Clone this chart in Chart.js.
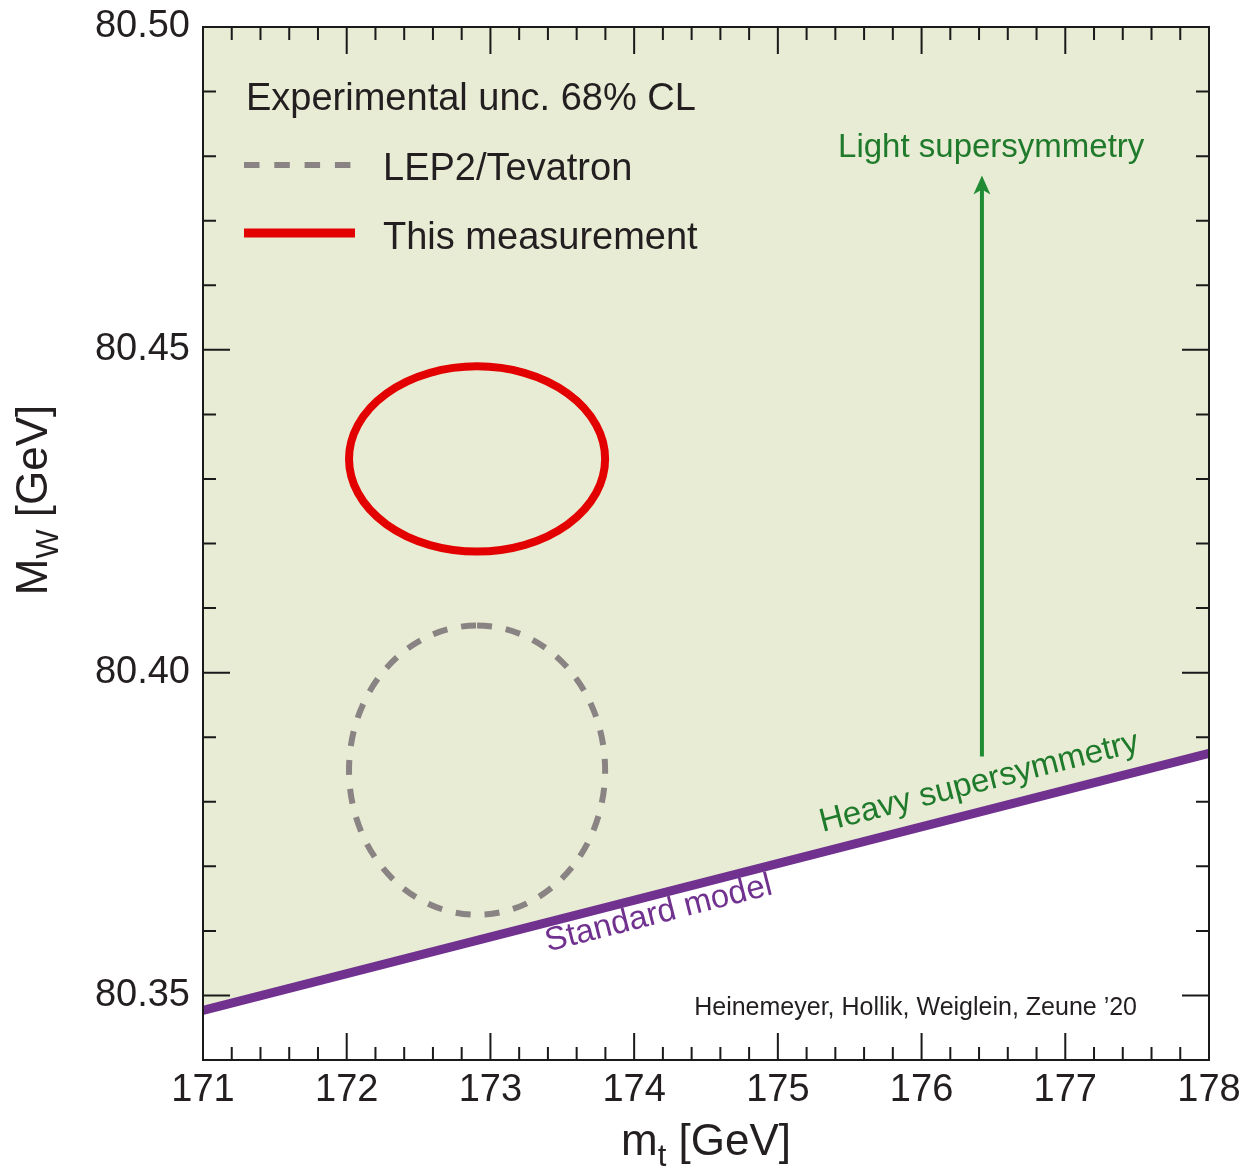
<!DOCTYPE html>
<html>
<head>
<meta charset="utf-8">
<script src="https://cdn.jsdelivr.net/npm/chart.js@4.4.1/dist/chart.umd.min.js"></script>
<style>
  html, body { margin: 0; padding: 0; background: #ffffff; }
  canvas { display: block; }
</style>
</head>
<body>
<canvas id="c" width="1258" height="1168"></canvas>
<script>
// ---------- data ----------
const xTickValues = [171, 172, 173, 174, 175, 176, 177, 178];
const yTickValues = [80.35, 80.40, 80.45, 80.50];
const xRange = [171, 178];
const yRange = [80.34, 80.50];

// Standard model line (m_t, M_W)
const smMt = [171, 178];
const smMw = [80.3477, 80.3875];

// 68% CL ellipses: LEP2/Tevatron, This measurement
const ellipseNames = ['LEP2/Tevatron', 'This measurement'];
const ellipseMt = [172.907, 172.907];
const ellipseMw = [80.3849, 80.4331];
const ellipseMtHalf = [0.891, 0.891];
const ellipseMwHalf = [0.0224, 0.01435];

// arrow from heavy to light supersymmetry
const arrowMt = [176.42, 176.42];
const arrowMw = [80.387, 80.477];

// ---------- styles ----------
const FONT = '"Liberation Sans", Arial, Helvetica, sans-serif';
const TEXT = '#231f20';
const BG_GREEN = '#e8ecd4';
const PURPLE = '#70318f';
const RED = '#e30000';
const GRAY = '#8a8383';
const GREEN_ARROW = '#1f8c34';
const GREEN_TEXT = '#1f7a2c';

Chart.defaults.font.family = FONT;

const decor = {
  id: 'decor',
  afterDatasetsDraw(chart) {
    const ctx = chart.ctx;
    const xs = chart.scales.x, ys = chart.scales.y;
    const ca = chart.chartArea;

    // ellipses
    const eStyle = [
      { color: GRAY, width: 6, dash: [15, 14] },
      { color: RED, width: 8, dash: [] }
    ];
    for (let i = 0; i < ellipseMt.length; i++) {
      const cx = xs.getPixelForValue(ellipseMt[i]);
      const cy = ys.getPixelForValue(ellipseMw[i]);
      const rx = Math.abs(xs.getPixelForValue(ellipseMt[i] + ellipseMtHalf[i]) - cx);
      const ry = Math.abs(ys.getPixelForValue(ellipseMw[i] + ellipseMwHalf[i]) - cy);
      ctx.save();
      ctx.strokeStyle = eStyle[i].color;
      ctx.lineWidth = eStyle[i].width;
      ctx.setLineDash(eStyle[i].dash);
      ctx.beginPath();
      ctx.ellipse(cx, cy, rx, ry, 0, -Math.PI / 2, 1.5 * Math.PI);
      ctx.stroke();
      ctx.restore();
    }

    // arrow
    const ax = xs.getPixelForValue(arrowMt[0]);
    const ay0 = ys.getPixelForValue(arrowMw[0]);
    const ay1 = ys.getPixelForValue(arrowMw[1]);
    ctx.save();
    ctx.strokeStyle = GREEN_ARROW;
    ctx.fillStyle = GREEN_ARROW;
    ctx.lineWidth = 4;
    ctx.beginPath();
    ctx.moveTo(ax, ay0);
    ctx.lineTo(ax, ay1 + 12);
    ctx.stroke();
    ctx.beginPath();
    ctx.moveTo(ax, ay1);
    ctx.lineTo(ax + 8.5, ay1 + 19);
    ctx.lineTo(ax, ay1 + 14);
    ctx.lineTo(ax - 8.5, ay1 + 19);
    ctx.closePath();
    ctx.fill();
    ctx.restore();

    // rotated labels along SM line
    const p0x = xs.getPixelForValue(smMt[0]), p0y = ys.getPixelForValue(smMw[0]);
    const p1x = xs.getPixelForValue(smMt[1]), p1y = ys.getPixelForValue(smMw[1]);
    const ang = Math.atan2(p1y - p0y, p1x - p0x);
    function rotText(txt, mx, my, color) {
      ctx.save();
      ctx.translate(xs.getPixelForValue(mx), ys.getPixelForValue(my));
      ctx.rotate(ang);
      ctx.font = '33px ' + FONT;
      ctx.fillStyle = color;
      ctx.textAlign = 'left';
      ctx.textBaseline = 'alphabetic';
      ctx.fillText(txt, 0, 0);
      ctx.restore();
    }
    rotText('Heavy supersymmetry', 175.31, 80.3753, GREEN_TEXT);
    rotText('Standard model', 173.401, 80.3568, PURPLE);

    ctx.save();
    ctx.font = '33px ' + FONT;
    ctx.fillStyle = GREEN_TEXT;
    ctx.textAlign = 'left';
    ctx.textBaseline = 'alphabetic';
    ctx.fillText('Light supersymmetry', xs.getPixelForValue(175.419), ys.getPixelForValue(80.4799));
    ctx.restore();

    // legend
    ctx.save();
    ctx.font = '38px ' + FONT;
    ctx.fillStyle = TEXT;
    ctx.textAlign = 'left';
    ctx.textBaseline = 'alphabetic';
    ctx.fillText('Experimental unc. 68% CL', ca.left + 43, ca.top + 83);
    ctx.fillText(ellipseNames[0], ca.left + 180, ca.top + 153);
    ctx.fillText(ellipseNames[1], ca.left + 180, ca.top + 222);
    ctx.lineCap = 'butt';
    ctx.strokeStyle = GRAY;
    ctx.lineWidth = 6;
    ctx.setLineDash([15.5, 14.8]);
    ctx.beginPath();
    ctx.moveTo(ca.left + 41, ca.top + 138);
    ctx.lineTo(ca.left + 152, ca.top + 138);
    ctx.stroke();
    ctx.setLineDash([]);
    ctx.strokeStyle = RED;
    ctx.lineWidth = 9;
    ctx.beginPath();
    ctx.moveTo(ca.left + 41, ca.top + 206);
    ctx.lineTo(ca.left + 152, ca.top + 206);
    ctx.stroke();
    ctx.restore();

    // credit
    ctx.save();
    ctx.font = '25px ' + FONT;
    ctx.fillStyle = TEXT;
    ctx.textAlign = 'right';
    ctx.textBaseline = 'alphabetic';
    ctx.fillText('Heinemeyer, Hollik, Weiglein, Zeune \u201920', ca.right - 72, ca.bottom - 45);
    ctx.restore();

    // frame
    ctx.save();
    ctx.strokeStyle = '#1a1a1a';
    ctx.lineWidth = 2;
    ctx.strokeRect(ca.left, ca.top, ca.right - ca.left, ca.bottom - ca.top);

    // ticks (inward, all sides)
    ctx.lineWidth = 2;
    ctx.beginPath();
    const MAJ = 27, MIN = 13;
    for (let k = 1; k < 35; k++) {
      const v = xRange[0] + k * 0.2;
      const px = xs.getPixelForValue(v);
      const len = (k % 5 === 0) ? MAJ : MIN;
      ctx.moveTo(px, ca.bottom); ctx.lineTo(px, ca.bottom - len);
      ctx.moveTo(px, ca.top); ctx.lineTo(px, ca.top + len);
    }
    for (let k = 1; k < 16; k++) {
      const v = yRange[0] + k * 0.01;
      const py = ys.getPixelForValue(v);
      const len = ((k - 1) % 5 === 0) ? MAJ : MIN;
      ctx.moveTo(ca.left, py); ctx.lineTo(ca.left + len, py);
      ctx.moveTo(ca.right, py); ctx.lineTo(ca.right - len, py);
    }
    ctx.stroke();
    ctx.restore();

    // axis titles
    ctx.save();
    ctx.fillStyle = TEXT;
    ctx.textBaseline = 'alphabetic';
    ctx.textAlign = 'left';
    const big = '44px ' + FONT, small = '31px ' + FONT;
    // x title: m_t [GeV]
    ctx.font = big; const wm = ctx.measureText('m').width;
    ctx.font = small; const wt = ctx.measureText('t').width;
    ctx.font = big; const wr = ctx.measureText(' [GeV]').width;
    const tot = wm + wt + wr;
    let sx = (ca.left + ca.right) / 2 - tot / 2;
    const by = 1155;
    ctx.font = big; ctx.fillText('m', sx, by);
    ctx.font = small; ctx.fillText('t', sx + wm, by + 11);
    ctx.font = big; ctx.fillText(' [GeV]', sx + wm + wt, by);
    // y title: M_W [GeV]
    ctx.translate(47, 500);
    ctx.rotate(-Math.PI / 2);
    ctx.font = big; const wM = ctx.measureText('M').width;
    ctx.font = small; const wW = ctx.measureText('W').width;
    ctx.font = big; const wg = ctx.measureText(' [GeV]').width;
    let s2 = -(wM + wW + wg) / 2;
    ctx.font = big; ctx.fillText('M', s2, 0);
    ctx.font = small; ctx.fillText('W', s2 + wM, 11);
    ctx.font = big; ctx.fillText(' [GeV]', s2 + wM + wW, 0);
    ctx.restore();
  }
};

new Chart(document.getElementById('c'), {
  type: 'scatter',
  data: {
    datasets: [{
      type: 'line',
      label: 'Standard model',
      data: smMt.map((x, i) => ({ x: x, y: smMw[i] })),
      borderColor: PURPLE,
      borderWidth: 9,
      pointRadius: 0,
      fill: 'end',
      backgroundColor: BG_GREEN,
      tension: 0
    }]
  },
  options: {
    responsive: false,
    animation: false,
    events: [],
    layout: { padding: { top: 27, right: 49, left: 0, bottom: 0 } },
    plugins: { legend: { display: false }, tooltip: { enabled: false } },
    scales: {
      x: {
        type: 'linear',
        min: xRange[0], max: xRange[1],
        afterBuildTicks: s => { s.ticks = xTickValues.map(v => ({ value: v })); },
        afterFit: s => { s.height = 108; s.paddingLeft = 0; s.paddingRight = 0; },
        grid: { display: false, drawTicks: false },
        border: { display: false },
        ticks: { font: { size: 38 }, color: TEXT, padding: 8, maxRotation: 0, autoSkip: false,
                 callback: v => String(v) }
      },
      y: {
        type: 'linear',
        min: yRange[0], max: yRange[1],
        afterBuildTicks: s => { s.ticks = yTickValues.map(v => ({ value: v })); },
        afterFit: s => { s.width = 203; s.paddingTop = 0; s.paddingBottom = 0; },
        grid: { display: false, drawTicks: false },
        border: { display: false },
        ticks: { font: { size: 38 }, color: TEXT, padding: 13, autoSkip: false,
                 callback: v => Number(v).toFixed(2) }
      }
    }
  },
  plugins: [decor]
});
</script>
</body>
</html>
